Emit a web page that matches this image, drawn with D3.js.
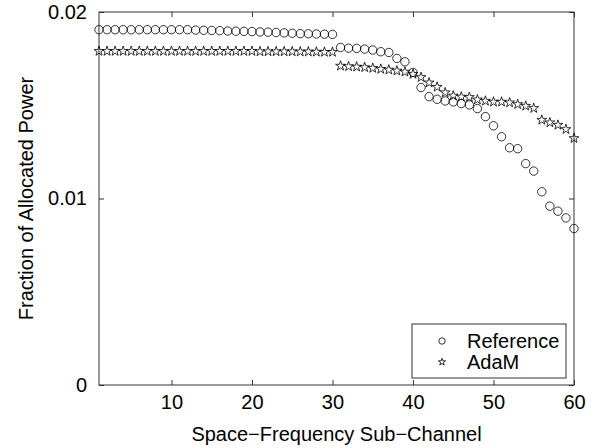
<!DOCTYPE html>
<html><head><meta charset="utf-8">
<script src="https://cdn.jsdelivr.net/npm/d3@7"></script>
<style>body{margin:0;background:#fff}svg{display:block}text{font-family:"Liberation Sans",Arial,sans-serif}</style>
</head><body><svg id="c" width="594" height="448"></svg>
<script>
const subChannels = d3.range(1, 61);
const referenceValues = [
0.01905,0.01905,0.01905,0.01905,0.01905,0.01905,0.01905,0.01905,0.01905,0.01905,
0.01905,0.01905,0.01903,0.01902,0.01901,0.01900,0.01898,0.01897,0.01896,0.01895,
0.01893,0.01892,0.01890,0.01888,0.01886,0.01884,0.01883,0.01882,0.01881,0.01880,
0.01810,0.01806,0.01805,0.01801,0.01796,0.01787,0.01783,0.01751,0.01733,0.01676,
0.01595,0.01546,0.01532,0.01523,0.01518,0.01509,0.01502,0.01482,0.01439,0.01390,
0.01331,0.01272,0.01267,0.01187,0.01147,0.01036,0.00959,0.00932,0.00896,0.00839];
const adamValues = [
0.01790,0.01790,0.01790,0.01790,0.01790,0.01790,0.01790,0.01790,0.01790,0.01790,
0.01790,0.01790,0.01790,0.01790,0.01790,0.01790,0.01790,0.01790,0.01790,0.01790,
0.01788,0.01788,0.01788,0.01788,0.01788,0.01787,0.01787,0.01786,0.01785,0.01785,
0.01711,0.01708,0.01706,0.01703,0.01699,0.01694,0.01690,0.01685,0.01679,0.01667,
0.01650,0.01621,0.01598,0.01568,0.01551,0.01545,0.01543,0.01530,0.01523,0.01518,
0.01518,0.01514,0.01505,0.01496,0.01484,0.01421,0.01407,0.01394,0.01371,0.01323];
const xTicks = [10,20,30,40,50,60];
const yTicks = [0,0.01,0.02];
const yTickLabels = ["0","0.01","0.02"];
const legendLabels = ["Reference","AdaM"];
const xLabel = "Space\u2212Frequency Sub\u2212Channel";
const yLabel = "Fraction of Allocated Power";

const svg = d3.select("#c");
const L=99,R=574,T=12,B=385;
const x = d3.scaleLinear().domain([1,60]).range([L,R]);
const y = d3.scaleLinear().domain([0,0.02]).range([B,T]);
const axisCol="#333", fs=20;

svg.append("rect").attr("x",L).attr("y",T).attr("width",R-L).attr("height",B-T)
  .attr("fill","none").attr("stroke",axisCol).attr("stroke-width",1);

const gx = svg.append("g").attr("transform",`translate(0,${B})`)
  .call(d3.axisBottom(x).tickValues(xTicks).tickSize(-5).tickPadding(10));
const gxt = svg.append("g").attr("transform",`translate(0,${T})`)
  .call(d3.axisTop(x).tickValues(xTicks).tickSize(-5).tickFormat(""));
const gy = svg.append("g").attr("transform",`translate(${L},0)`)
  .call(d3.axisLeft(y).tickValues(yTicks).tickSize(-5).tickPadding(12).tickFormat((d,i)=>yTickLabels[i]));
const gyr = svg.append("g").attr("transform",`translate(${R},0)`)
  .call(d3.axisRight(y).tickValues(yTicks).tickSize(-5).tickFormat(""));
[gx,gxt,gy,gyr].forEach(g=>{
  g.select(".domain").remove();
  g.selectAll("line").attr("stroke",axisCol);
  g.selectAll("text").attr("fill","#000").style("font-size",fs+"px").style("font-family","'Liberation Sans',Arial,sans-serif");
});

svg.append("text").attr("x",(L+R)/2).attr("y",441).attr("text-anchor","middle")
  .style("font-size",fs+"px").text(xLabel);
svg.append("text").attr("transform",`translate(33,${(T+B)/2}) rotate(-90)`).attr("text-anchor","middle")
  .style("font-size",fs+"px").text(yLabel);

const star = d3.symbol().type(d3.symbolStar).size(30);
svg.append("g").selectAll("path").data(subChannels).join("path")
  .attr("transform",(d,i)=>`translate(${x(d)},${y(adamValues[i])})`)
  .attr("d",star).attr("fill","none").attr("stroke","#000").attr("stroke-width",0.8);
svg.append("g").selectAll("circle").data(subChannels).join("circle")
  .attr("cx",d=>x(d)).attr("cy",(d,i)=>y(referenceValues[i])).attr("r",4.2)
  .attr("fill","none").attr("stroke","#000").attr("stroke-width",0.8);

// legend
const lg = svg.append("g");
lg.append("rect").attr("x",412).attr("y",324).attr("width",154).attr("height",54)
  .attr("fill","#fff").attr("stroke",axisCol);
lg.append("circle").attr("cx",442).attr("cy",341).attr("r",3.2).attr("fill","none").attr("stroke","#000").attr("stroke-width",0.8);
lg.append("path").attr("transform","translate(442,362)").attr("d",d3.symbol().type(d3.symbolStar).size(16)).attr("fill","none").attr("stroke","#000").attr("stroke-width",0.8);
legendLabels.forEach((t,i)=>{
  lg.append("text").attr("x",467).attr("y",341+21*i).attr("dy","0.35em").style("font-size",fs+"px").text(t);
});
</script></body></html>
